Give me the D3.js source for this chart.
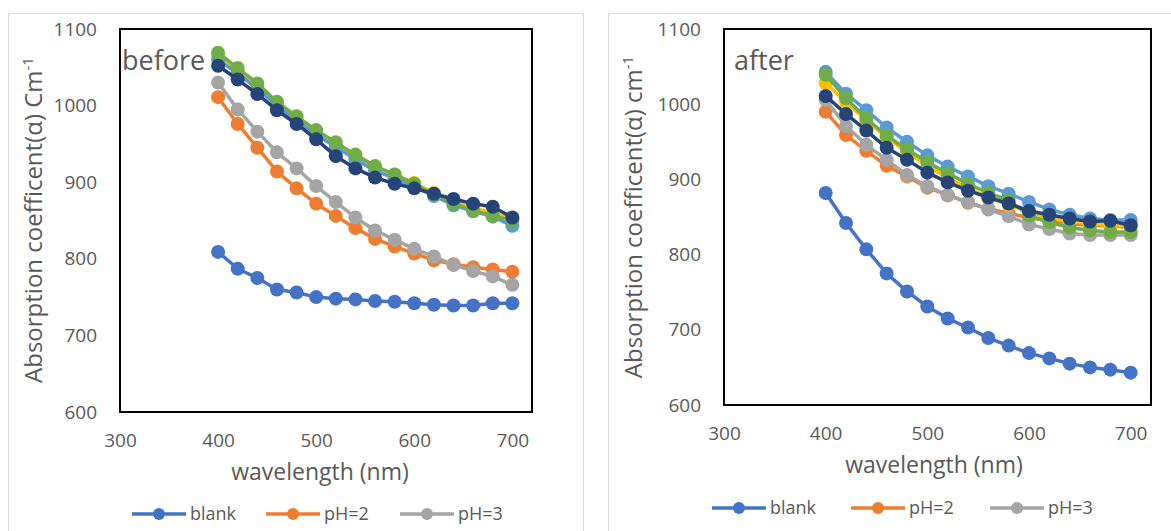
<!DOCTYPE html>
<html>
<head>
<meta charset="utf-8">
<script src="https://cdn.jsdelivr.net/npm/d3@7"></script>
<style>
  body { margin: 0; background: #fff; }
  svg { display: block; font-family: "Open Sans", sans-serif; }
</style>
</head>
<body>
<svg id="chart" width="1171" height="531"></svg>
<script>
// wavelengths (nm), shared by every series
const wavelength = [400, 420, 440, 460, 480, 500, 520, 540, 560, 580, 600, 620, 640, 660, 680, 700];

const seriesNames = ["blank", "pH=2", "pH=3", "pH=4", "pH=5", "pH=6", "pH=7"];
const seriesColors = ["#4472C4", "#ED7D31", "#A5A5A5", "#FFC000", "#5B9BD5", "#70AD47", "#264478"];
const xTicks = [300, 400, 500, 600, 700];
const yTicks = [600, 700, 800, 900, 1000, 1100];

// before
const beforeBlank = [809, 787, 775, 760, 756, 750, 748, 747, 745, 744, 742, 740, 739, 739, 742, 742];
const beforePH2   = [1011, 976, 945, 914, 892, 872, 856, 840, 826, 816, 807, 798, 793, 789, 786, 783];
const beforePH3   = [1030, 995, 966, 939, 918, 895, 874, 854, 837, 825, 813, 803, 792, 784, 777, 766];
const beforePH4   = [1064, 1046, 1026, 1003, 984, 966, 950, 934, 920, 910, 899, 886, 874, 866, 860, 852];
const beforePH5   = [1060, 1042, 1022, 1000, 980, 962, 946, 930, 915, 905, 894, 882, 870, 862, 855, 843];
const beforePH6   = [1069, 1049, 1029, 1005, 986, 968, 952, 936, 921, 910, 898, 884, 872, 863, 856, 850];
const beforePH7   = [1052, 1034, 1015, 994, 976, 956, 934, 918, 906, 898, 892, 885, 878, 872, 868, 854];

// after
const afterBlank = [882, 842, 807, 775, 751, 731, 715, 703, 689, 679, 669, 662, 655, 650, 647, 643];
const afterPH2   = [990, 959, 938, 918, 904, 889, 879, 869, 861, 855, 849, 845, 841, 839, 838, 836];
const afterPH3   = [1006, 971, 946, 926, 906, 891, 879, 870, 860, 851, 840, 834, 828, 826, 826, 826];
const afterPH4   = [1028, 1003, 978, 956, 936, 918, 902, 888, 876, 866, 857, 849, 844, 841, 839, 838];
const afterPH5   = [1043, 1014, 992, 969, 950, 932, 917, 904, 891, 881, 870, 860, 853, 848, 846, 846];
const afterPH6   = [1039, 1008, 981, 958, 940, 923, 908, 894, 882, 872, 852, 843, 836, 832, 830, 830];
const afterPH7   = [1011, 987, 965, 942, 926, 909, 896, 885, 876, 868, 858, 853, 848, 844, 845, 839];

const svg = d3.select("#chart");

function drawPanel(p) {
  const g = svg.append("g");

  g.append("rect")
    .attr("x", p.box[0] + 0.5).attr("y", p.box[1] + 0.5)
    .attr("width", p.box[2]).attr("height", p.box[3])
    .attr("fill", "#fff").attr("stroke", "#d9d9d9");

  const x = d3.scaleLinear().domain([300, 720]).range([p.left, p.right]);
  const y = d3.scaleLinear().domain([600, 1100]).range([p.bottom, p.top]);

  const yAxis = g.append("g")
    .attr("transform", "translate(" + p.left + ",0)")
    .call(d3.axisLeft(y).tickValues(yTicks).tickFormat(d3.format("d")).tickSize(0).tickPadding(23));
  yAxis.select(".domain").remove();
  yAxis.selectAll("text").attr("fill", "#595959").style("font-size", "19px")
    .style("font-family", "Open Sans");

  const xAxis = g.append("g")
    .attr("transform", "translate(0," + p.bottom + ")")
    .call(d3.axisBottom(x).tickValues(xTicks).tickFormat(d3.format("d")).tickSize(0).tickPadding(22));
  xAxis.select(".domain").remove();
  xAxis.selectAll("text").attr("fill", "#595959").style("font-size", "19px")
    .style("font-family", "Open Sans");

  const line = d3.line()
    .x((d, i) => x(wavelength[i]))
    .y(d => y(d));

  p.series.forEach((vals, s) => {
    g.append("path")
      .datum(vals)
      .attr("fill", "none")
      .attr("stroke", seriesColors[s])
      .attr("stroke-width", 3.5)
      .attr("stroke-linejoin", "round")
      .attr("d", line);
    g.selectAll(null)
      .data(vals)
      .enter().append("circle")
      .attr("cx", (d, i) => x(wavelength[i]))
      .attr("cy", d => y(d))
      .attr("r", 7)
      .attr("fill", seriesColors[s]);
  });

  // plot frame
  g.append("rect")
    .attr("x", p.left).attr("y", p.top)
    .attr("width", p.right - p.left).attr("height", p.bottom - p.top)
    .attr("fill", "none").attr("stroke", "#000").attr("stroke-width", 2);

  g.append("text")
    .attr("x", p.left + p.labelDx).attr("y", p.top + 41)
    .attr("fill", "#595959").style("font-size", "27px")
    .text(p.label);

  const yt = g.append("text")
    .attr("transform", "translate(" + p.yTitleX + "," + p.yTitleY + ") rotate(-90)")
    .attr("text-anchor", "middle")
    .attr("fill", "#595959").style("font-size", "24px");
  yt.append("tspan").text(p.yTitle);
  yt.append("tspan").attr("dy", -9).style("font-size", "15px").text("-1");

  g.append("text")
    .attr("x", p.xTitleX).attr("y", p.xTitleY)
    .attr("text-anchor", "middle")
    .attr("fill", "#595959").style("font-size", "23px")
    .text("wavelength (nm)");

  // legend (first three series only are visible)
  for (let s = 0; s < 3; s++) {
    const lx = p.legendX + s * p.legendStep;
    g.append("line")
      .attr("x1", lx).attr("x2", lx + 54)
      .attr("y1", p.legendY).attr("y2", p.legendY)
      .attr("stroke", seriesColors[s]).attr("stroke-width", 3.5);
    g.append("circle")
      .attr("cx", lx + 27).attr("cy", p.legendY).attr("r", 6)
      .attr("fill", seriesColors[s]);
    g.append("text")
      .attr("x", lx + 58).attr("y", p.legendY + 6)
      .attr("fill", "#595959").style("font-size", "18px")
      .text(seriesNames[s]);
  }
}

drawPanel({
  box: [8, 13, 575, 530],
  left: 120, right: 532, top: 29, bottom: 412,
  series: [beforeBlank, beforePH2, beforePH3, beforePH4, beforePH5, beforePH6, beforePH7],
  label: "before", labelDx: 2,
  yTitle: "Absorption coefficent(\u03b1) Cm", yTitleX: 42, yTitleY: 220,
  xTitleX: 320, xTitleY: 480,
  legendX: 132, legendStep: 134, legendY: 514
});

drawPanel({
  box: [608, 13, 575, 530],
  left: 724, right: 1151, top: 29, bottom: 405,
  series: [afterBlank, afterPH2, afterPH3, afterPH4, afterPH5, afterPH6, afterPH7],
  label: "after", labelDx: 10,
  yTitle: "Absorption coefficent(\u03b1) cm", yTitleX: 642, yTitleY: 217,
  xTitleX: 934, xTitleY: 473,
  legendX: 712, legendStep: 139, legendY: 508
});
</script>
</body>
</html>
